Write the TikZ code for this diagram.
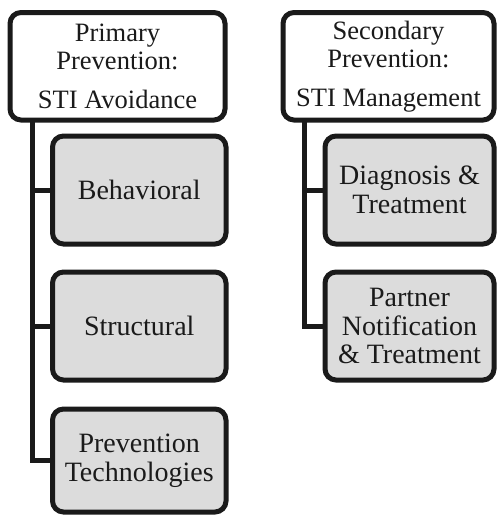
\documentclass[tikz,border=0pt]{standalone}
\usepackage{fontspec}
\setmainfont{Liberation Serif}
\definecolor{boxgray}{RGB}{220,220,220}
\definecolor{ink}{RGB}{26,26,26}
\begin{document}
\begin{tikzpicture}[x=1pt,y=-1pt,
  box/.style={draw=ink, line width=5pt, rounded corners=11pt, align=center, inner sep=0pt,
    font=\fontsize{28}{28.5}\selectfont, text=ink},
  headbox/.style={box, fill=white, font=\fontsize{26.5}{28}\selectfont},
  subbox/.style={box, fill=boxgray},
  conn/.style={draw=ink, line width=5pt}]
\useasboundingbox (0,0) rectangle (497,515);
% primary column
\node[headbox, minimum width=215pt, minimum height=107.5pt] (prim) at (117.5,66.25)
  {Primary\\Prevention:\\[11pt]STI Avoidance};
\node[subbox, minimum width=173.5pt, minimum height=108pt] (beh) at (139.25,190) {Behavioral};
\node[subbox, minimum width=173.5pt, minimum height=108pt] (str) at (139.25,326) {Structural};
\node[subbox, minimum width=173.5pt, minimum height=103pt] (tech) at (139.25,460.5) {Prevention\\Technologies};
% secondary column
\node[headbox, minimum width=211pt, minimum height=107.5pt] (sec) at (388.5,66.25)
  {Secondary\\Prevention:\\[11pt]STI Management};
\node[subbox, minimum width=169pt, minimum height=108pt] (diag) at (409.5,190) {Diagnosis \&\\Treatment};
\node[subbox, minimum width=169pt, minimum height=108pt] (part) at (409.5,326) {Partner\\Notification\\\& Treatment};
% connectors
\coordinate (pa) at (32,120);
\coordinate (sa) at (304.5,120);
\draw[conn] (pa) |- (tech.west);
\draw[conn] (pa |- beh.west) -- (beh.west);
\draw[conn] (pa |- str.west) -- (str.west);
\draw[conn] (sa) |- (part.west);
\draw[conn] (sa |- diag.west) -- (diag.west);
\end{tikzpicture}
\end{document}
